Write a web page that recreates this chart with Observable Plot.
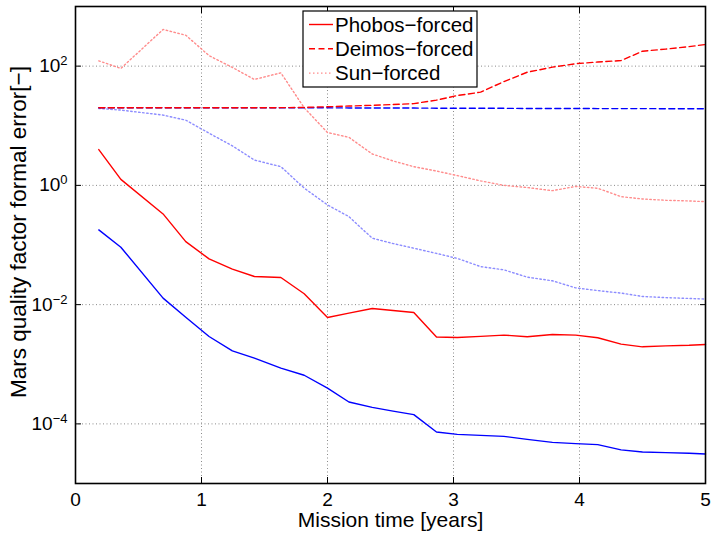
<!DOCTYPE html>
<html><head><meta charset="utf-8">
<script src="https://cdn.jsdelivr.net/npm/d3@7"></script>
<script src="https://cdn.jsdelivr.net/npm/@observablehq/plot@0.6"></script>
<style>body{margin:0;background:#fff;} svg{display:block}</style>
</head><body><div id="chart"></div>
<script>
// Mission time [years]
const years = [0.185, 0.36, 0.695, 0.875, 1.06, 1.245, 1.42, 1.63, 1.815, 2.0, 2.17, 2.355, 2.52, 2.685, 2.865, 3.03, 3.215, 3.4, 3.585, 3.785, 3.97, 4.145, 4.33, 4.5, 4.685, 4.87, 5.0];
// red series (legend)
const phobosForced = [3.99, 1.26, 0.332, 0.114, 0.0585, 0.0394, 0.0296, 0.0285, 0.0152, 0.00608, 0.00721, 0.0086, 0.00797, 0.00738, 0.00286, 0.00281, 0.00294, 0.00308, 0.00289, 0.00316, 0.00308, 0.00278, 0.00218, 0.00196, 0.00203, 0.00208, 0.00215];
const deimosForced = [20.0, 20.0, 20.0, 20.0, 20.0, 20.0, 20.0, 20.1, 20.3, 20.8, 21.4, 22.0, 22.7, 23.5, 26.9, 32.1, 36.6, 55, 79, 96, 110, 117, 124, 178, 193, 212, 231];
const sunForced = [122.6, 91.5, 412, 330, 150, 95, 59.8, 77.2, 20.0, 7.7, 6.4, 3.36, 2.57, 2.06, 1.74, 1.46, 1.19, 1.0, 0.92, 0.815, 0.96, 0.894, 0.647, 0.592, 0.562, 0.548, 0.533];
// blue series (not in legend)
const blueSolid = [0.179, 0.0918, 0.01285, 0.00612, 0.00292, 0.00168, 0.00127, 0.000863, 0.000654, 0.000399, 0.000233, 0.000189, 0.000164, 0.000143, 7.31e-5, 6.67e-5, 6.41e-5, 6.17e-5, 5.5e-5, 4.9e-5, 4.66e-5, 4.48e-5, 3.66e-5, 3.38e-5, 3.3e-5, 3.21e-5, 3.13e-5];
const blueDashed = [20.0, 20.0, 20.0, 20.0, 20.0, 20.0, 20.0, 20.0, 20.0, 20.0, 19.9, 19.9, 19.8, 19.8, 19.7, 19.7, 19.6, 19.6, 19.5, 19.5, 19.5, 19.4, 19.4, 19.4, 19.3, 19.3, 19.3];
const blueDotted = [19.5, 18.3, 15.1, 12.4, 7.5, 4.6, 2.66, 2.06, 0.9, 0.47, 0.299, 0.13, 0.106, 0.0884, 0.0723, 0.0596, 0.0434, 0.0383, 0.0289, 0.0251, 0.0191, 0.0172, 0.0156, 0.0137, 0.0131, 0.0127, 0.0124];

const xTicks = [0, 1, 2, 3, 4, 5];
const yTicks = [1e-4, 1e-2, 1, 1e2];
const xLabel = "Mission time [years]";
const yLabel = "Mars quality factor formal error[−]";
const legendLabels = ["Phobos−forced", "Deimos−forced", "Sun−forced"];

const FONT = "'Liberation Sans', Arial, Helvetica, sans-serif";
const RED = "#ff0000", BLUE = "#0000ff", PINK = "#ff8c8c", LAV = "#8c8cff";
const DASH = "6,3.5", DOT = "1.5,2.5";

const line = (ys, stroke, dash) => Plot.line(years, {x: years, y: ys, stroke, strokeWidth: 1.4, strokeDasharray: dash, curve: "linear"});

const chart = Plot.plot({
  width: 713, height: 534,
  marginLeft: 75, marginRight: 8, marginTop: 6, marginBottom: 51,
  style: {fontFamily: FONT, fontSize: "19px", background: "#fff", color: "#000"},
  x: {domain: [0, 5]},
  y: {type: "log", domain: [1e-5, 1e3]},
  marks: [
    Plot.gridX(xTicks.slice(1, -1), {stroke: "#8a8a8a", strokeOpacity: 1, strokeDasharray: "1,2.5"}),
    Plot.gridY(yTicks, {stroke: "#8a8a8a", strokeOpacity: 1, strokeDasharray: "1,2.5"}),
    line(blueDotted, LAV, DOT),
    line(sunForced, PINK, DOT),
    line(blueDashed, BLUE, DASH),
    line(deimosForced, RED, DASH),
    line(blueSolid, BLUE, null),
    line(phobosForced, RED, null),
    Plot.axisX(xTicks, {anchor: "bottom", tickSize: -6, tickFormat: () => "", label: null}),
    Plot.axisX(xTicks, {anchor: "top", tickSize: -6, tickFormat: () => "", label: null}),
    Plot.axisY(yTicks, {anchor: "left", tickSize: -6, tickFormat: () => "", label: null}),
    Plot.axisY(yTicks, {anchor: "right", tickSize: -6, tickFormat: () => "", label: null}),
    Plot.axisX(xTicks, {anchor: "bottom", tickSize: 0, tickPadding: 9, fontSize: 19, label: null, tickFormat: d => String(d)}),
    Plot.axisY(yTicks, {anchor: "left", tickSize: 0, tickPadding: 8, fontSize: 19, label: null,
      tickFormat: d => "E" + String(Math.round(Math.log10(d))).replace("-", "−")}),
    Plot.frame({stroke: "#000", strokeWidth: 1.6}),
    Plot.text([xLabel], {frameAnchor: "bottom", dy: 37, fontSize: 21, lineAnchor: "middle", textAnchor: "middle"}),
    Plot.text([yLabel], {frameAnchor: "left", rotate: -90, dx: -57, dy: -13, fontSize: 22.5, lineAnchor: "middle", textAnchor: "middle"})
  ]
});
document.getElementById("chart").appendChild(chart);

// superscript exponents on the log-axis labels
const svg = d3.select(chart);
svg.selectAll('g[aria-label="y-axis tick label"] text').each(function() {
  const s = this.textContent;
  if (!s || s[0] !== "E") return;
  this.textContent = "10";
  d3.select(this).append("tspan").attr("dy", "-0.55em").attr("font-size", 13).text(s.slice(1));
});

// legend box
const lg = svg.append("g").attr("font-family", FONT).attr("font-size", 20.5).attr("text-anchor", "start");
lg.append("rect").attr("x", 303).attr("y", 11).attr("width", 174).attr("height", 76)
  .attr("fill", "#fff").attr("stroke", "#000").attr("stroke-width", 1.2);
const styles = [[RED, null], [RED, DASH], [PINK, DOT]];
legendLabels.forEach((t, i) => {
  const y = 24.5 + i * 24.3;
  lg.append("line").attr("x1", 309).attr("x2", 333).attr("y1", y).attr("y2", y)
    .attr("stroke", styles[i][0]).attr("stroke-width", 1.4).attr("stroke-dasharray", styles[i][1]);
  lg.append("text").attr("x", 335).attr("y", y + 7).attr("text-anchor", "start").text(t);
});
</script>
</body></html>
